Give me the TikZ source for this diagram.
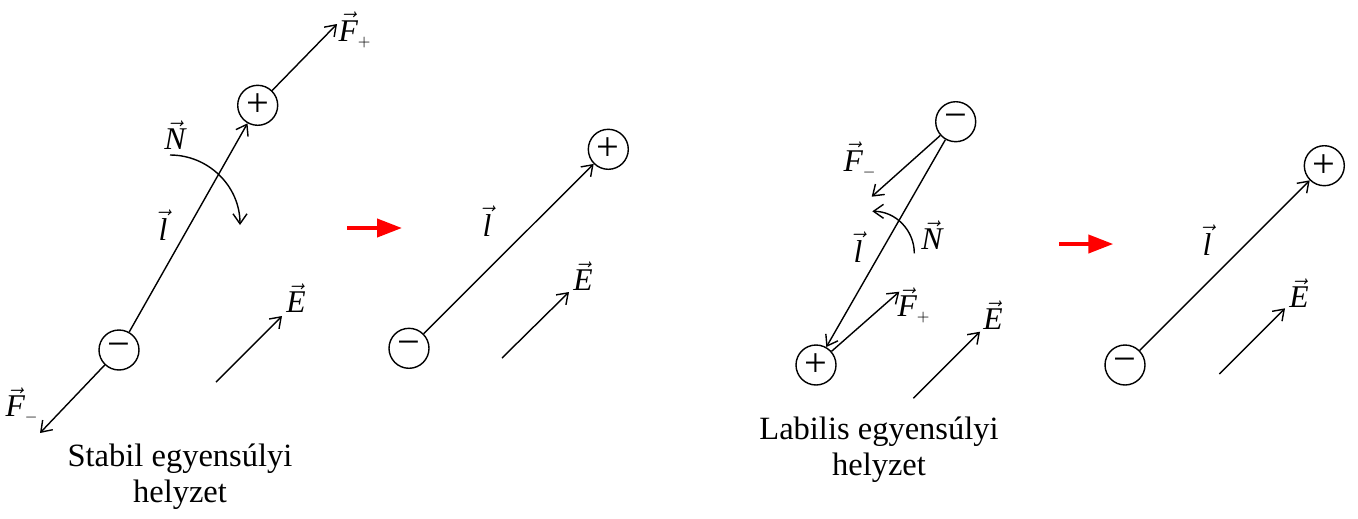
\documentclass[tikz,border=0pt]{standalone}
\usepackage{fontspec}
\setmainfont{Liberation Serif}
\usetikzlibrary{arrows.meta}
\newcommand{\vv}[1]{$\vec{\textit{#1}}$}
\newcommand{\sbp}{$_{\scriptscriptstyle +}$}
\newcommand{\sbm}{$_{\scriptscriptstyle -}$}
\tikzset{
  charge/.style={circle,draw,line width=0.8pt,minimum size=0.8cm,inner sep=0pt,font=\fontsize{23}{23}\selectfont},
  vec/.style={line width=0.8pt,-{Straight Barb[length=2mm,width=2.8mm]}},
  lbl/.style={inner sep=0pt,font=\fontsize{18}{20}\selectfont},
  captext/.style={inner sep=0pt,align=center,font=\fontsize{18.5}{20.5}\selectfont},
  redarrow/.style={red,line width=2.3pt,-{Triangle[length=5mm,width=3.6mm]}}
}
\begin{document}
\begin{tikzpicture}[x=0.02cm,y=-0.02cm]
\useasboundingbox (0,0) rectangle (1358,518);
% ---------- panel 1 ----------
\node[charge] (p1) at (257.7,105.3) {+};
\node[charge] (m1) at (119,350) {−};
\draw[vec] (m1) -- (p1);
\coordinate (fp1) at (337,24);
\coordinate (fm1) at (40,433);
\draw[vec] (p1) -- (fp1);
\draw[vec] (m1) -- (fm1);
\node[lbl] (lfp1) at (355,30) {\vv{F}\sbp};
\node[lbl] (lfm1) at (22,405) {\vv{F}\sbm};
\node[lbl] (ln1) at (175,135) {\vv{N}};
\coordinate (ns1) at (170,155);
\draw[vec] (ns1) arc[start angle=-90,end angle=0,radius=70];
\node[lbl] (ll1) at (163,225) {\vv{l}};
\coordinate (es1) at (216,382);
\coordinate (ee1) at (282,316);
\draw[vec] (es1) -- (ee1);
\node[lbl] (le1) at (296,298) {\vv{E}};
\node[captext] (c1) at (180,477) {Stabil egyensúlyi\\helyzet};
% red arrow 1
\coordinate (ra1) at (347,228);
\coordinate (rb1) at (402,228);
\draw[redarrow] (ra1) -- (rb1);
% ---------- panel 2 ----------
\node[charge] (p2) at (608.3,149.3) {+};
\node[charge] (m2) at (409,348.3) {−};
\draw[vec] (m2) -- (p2);
\node[lbl] (ll2) at (487,221) {\vv{l}};
\coordinate (es2) at (502,358);
\coordinate (ee2) at (569,292);
\draw[vec] (es2) -- (ee2);
\node[lbl] (le2) at (583,276) {\vv{E}};
% ---------- panel 3 ----------
\node[charge] (m3) at (955.7,121.7) {−};
\node[charge] (p3) at (816,365) {+};
\draw[vec] (m3) -- (p3);
\coordinate (fm3) at (871.7,196.7);
\draw[vec] (m3) -- (fm3);
\node[lbl] (lfm3) at (860,160) {\vv{F}\sbm};
\coordinate (ns3) at (914.3,253.3);
\draw[vec] (ns3) arc[start angle=0,end angle=-90,radius=42];
\node[lbl] (ln3) at (932,235) {\vv{N}};
\node[lbl] (ll3) at (858,247) {\vv{l}};
\coordinate (fp3) at (899.3,291.7);
\draw[vec] (p3) -- (fp3);
\node[lbl] (lfp3) at (914,305) {\vv{F}\sbp};
\coordinate (es3) at (913.3,398.3);
\coordinate (ee3) at (980,331.7);
\draw[vec] (es3) -- (ee3);
\node[lbl] (le3) at (993,315) {\vv{E}};
\node[captext] (c3) at (879,450) {Labilis egyensúlyi\\helyzet};
% red arrow 2
\coordinate (ra2) at (1059,244);
\coordinate (rb2) at (1113.3,244);
\draw[redarrow] (ra2) -- (rb2);
% ---------- panel 4 ----------
\node[charge] (p4) at (1324.3,165.7) {+};
\node[charge] (m4) at (1125,365) {−};
\draw[vec] (m4) -- (p4);
\node[lbl] (ll4) at (1207,240) {\vv{l}};
\coordinate (es4) at (1219.3,374);
\coordinate (ee4) at (1285,308.3);
\draw[vec] (es4) -- (ee4);
\node[lbl] (le4) at (1299,293) {\vv{E}};
\end{tikzpicture}
\end{document}
